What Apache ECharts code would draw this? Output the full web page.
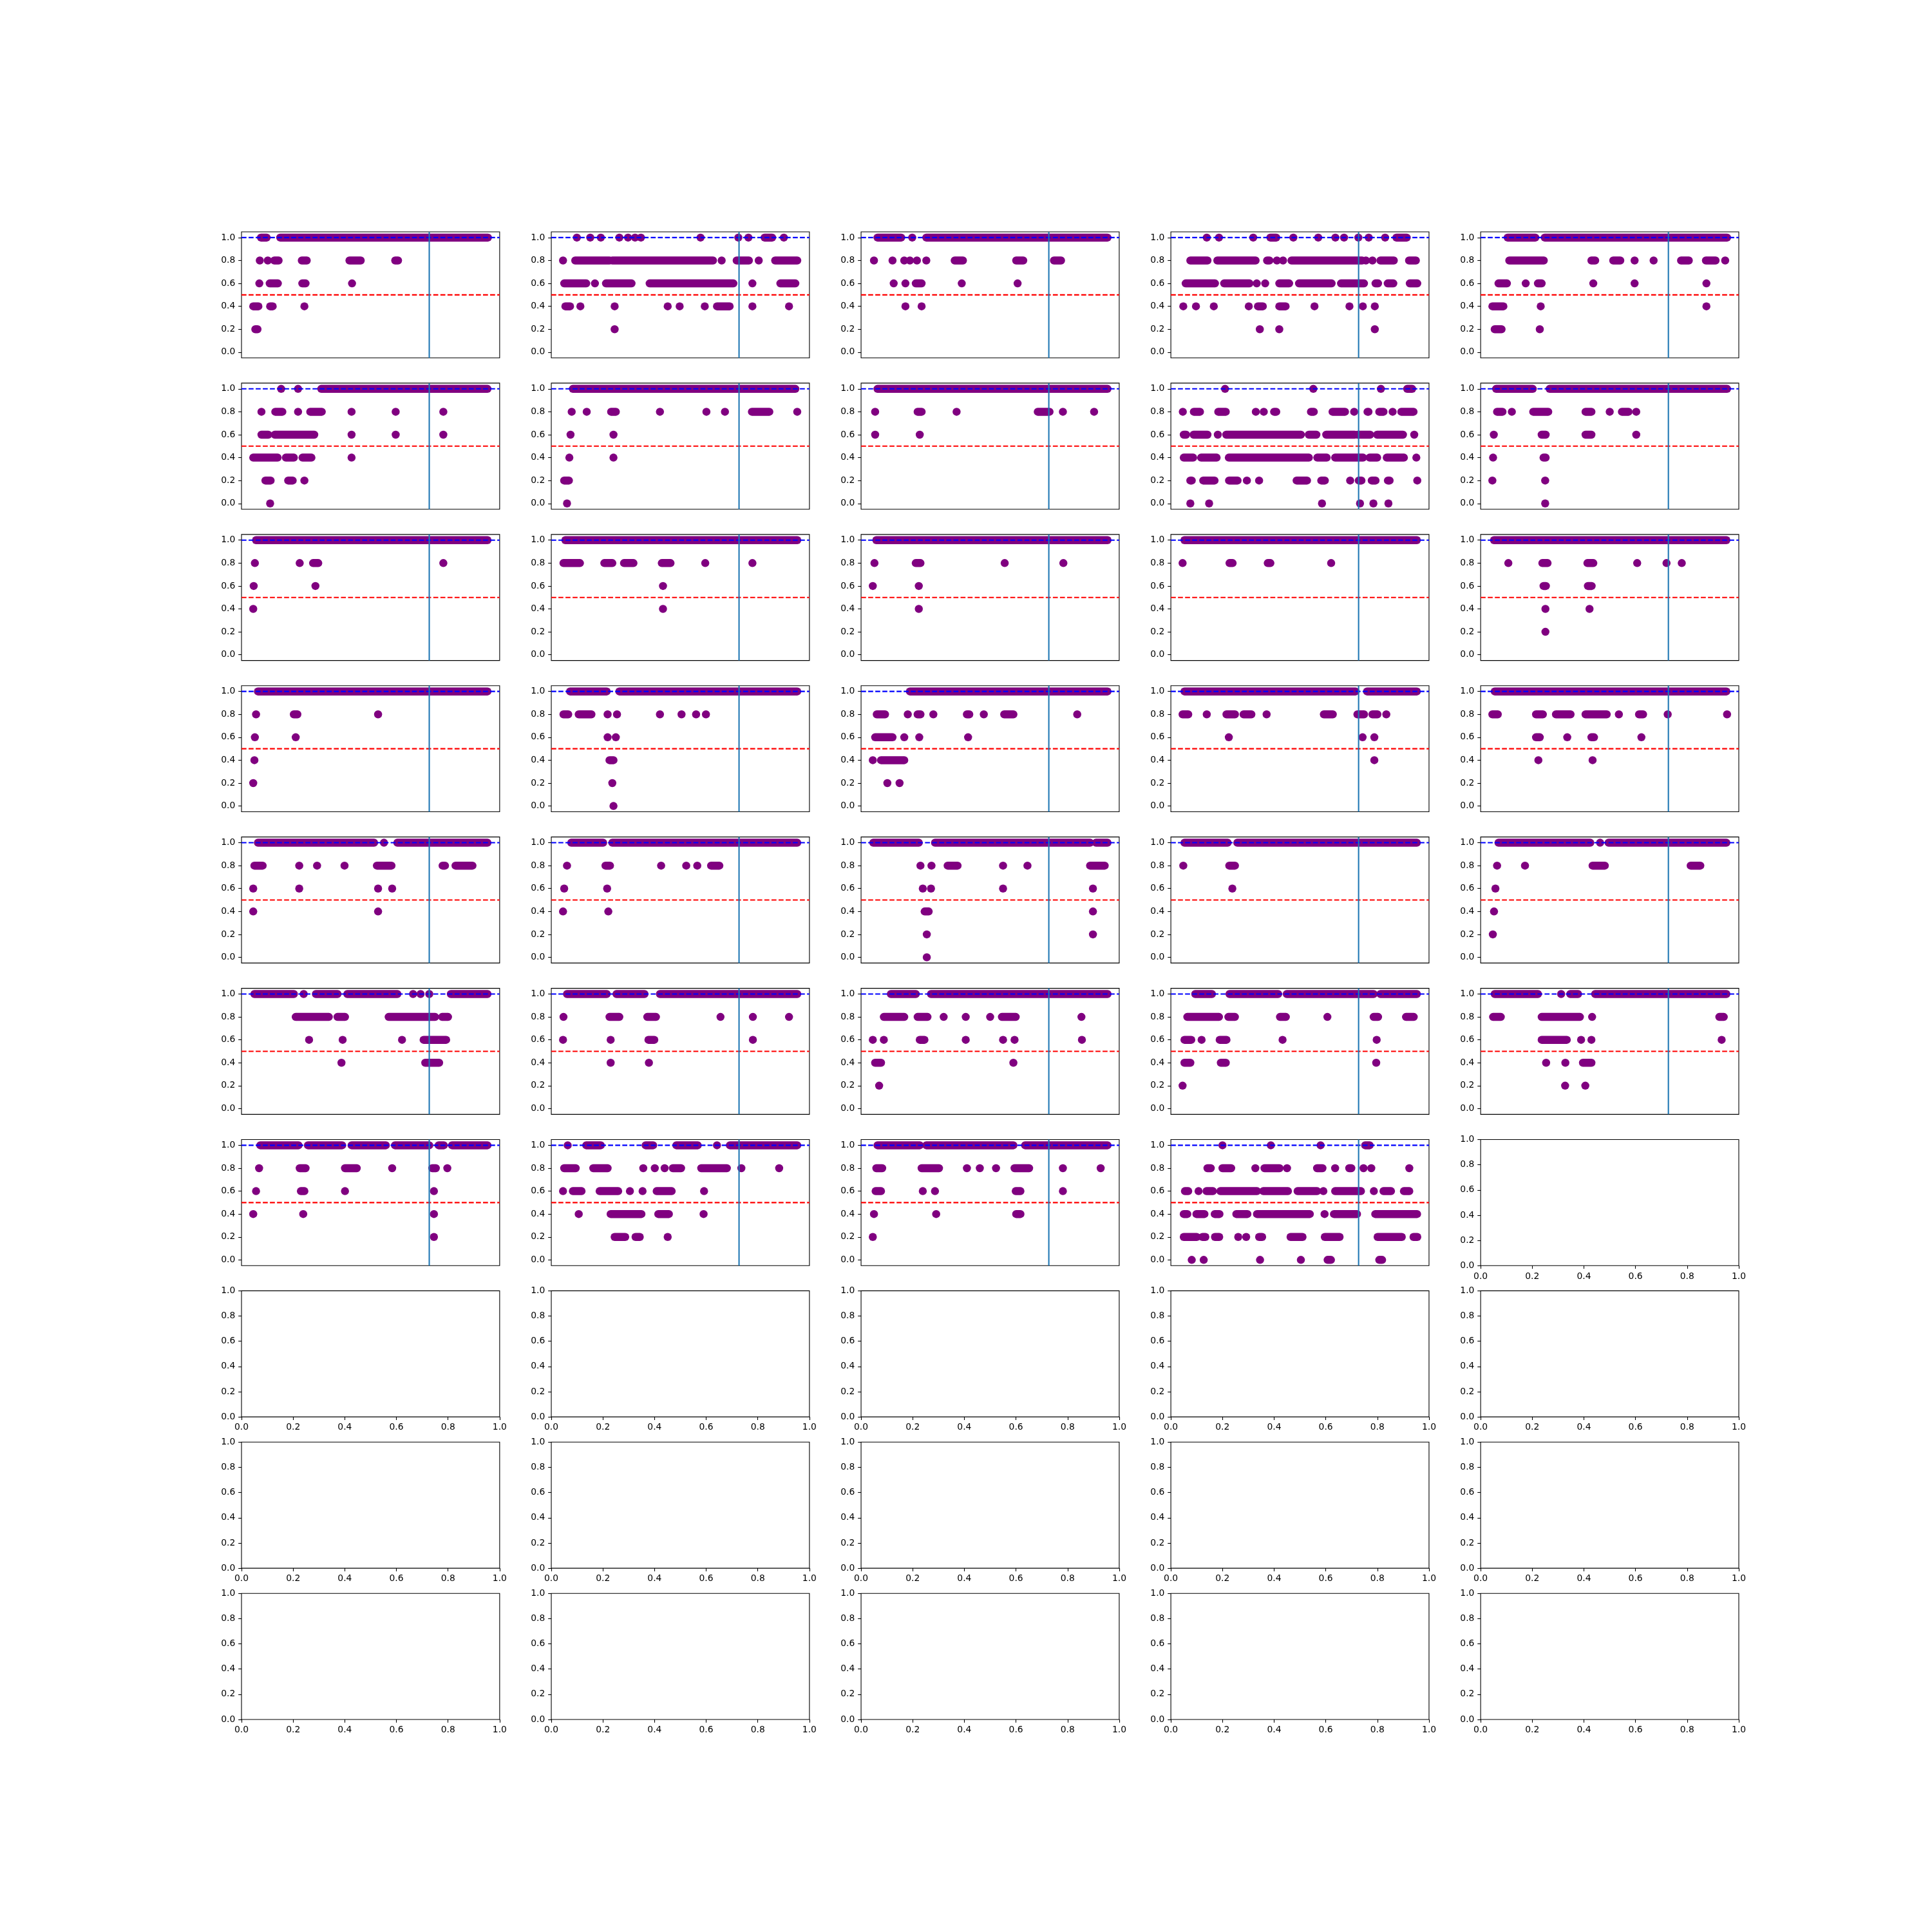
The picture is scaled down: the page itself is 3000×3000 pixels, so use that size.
<!DOCTYPE html>
<html><head><meta charset="utf-8">
<script src="https://cdn.jsdelivr.net/npm/echarts@6/dist/echarts.min.js"></script>
<style>html,body{margin:0;padding:0;background:#fff}#chart{width:3000px;height:3000px}</style>
</head><body><div id="chart"></div>
<script>
// ---- tick labels and reference values ----
const yTicks = [0, 0.2, 0.4, 0.6, 0.8, 1.0];
const xTicks = [0, 0.2, 0.4, 0.6, 0.8, 1.0];
const upperRef = 1.0, lowerRef = 0.5, splitAt = 0.75;

// ---- panel data: [y level, x start, x end] runs of touching markers (single marker when start == end) ----
const P00 = [[1,0.033,0.057],[1,0.115,1.0],[0.8,0.028,0.028],[0.8,0.062,0.062],[0.8,0.09,0.108],[0.8,0.207,0.228],[0.8,0.41,0.458],[0.8,0.605,0.617],[0.6,0.026,0.026],[0.6,0.07,0.105],[0.6,0.209,0.223],[0.6,0.421,0.421],[0.4,0.0,0.022],[0.4,0.072,0.083],[0.4,0.218,0.218],[0.2,0.009,0.018]];
const P01 = [[1,0.059,0.059],[1,0.116,0.116],[1,0.161,0.161],[1,0.24,0.24],[1,0.277,0.277],[1,0.307,0.307],[1,0.332,0.332],[1,0.586,0.586],[1,0.747,0.747],[1,0.79,0.79],[1,0.859,0.891],[1,0.941,0.941],[0.8,0.0,0.0],[0.8,0.052,0.198],[0.8,0.21,0.639],[0.8,0.676,0.676],[0.8,0.74,0.792],[0.8,0.834,0.834],[0.8,0.904,0.998],[0.6,0.005,0.099],[0.6,0.136,0.136],[0.6,0.183,0.292],[0.6,0.369,0.726],[0.6,0.807,0.807],[0.6,0.926,0.99],[0.4,0.01,0.03],[0.4,0.074,0.074],[0.4,0.22,0.22],[0.4,0.446,0.446],[0.4,0.497,0.497],[0.4,0.604,0.604],[0.4,0.656,0.71],[0.4,0.807,0.807],[0.4,0.963,0.963],[0.2,0.22,0.22]];
const P02 = [[1,0.02,0.121],[1,0.168,0.168],[1,0.228,1.0],[0.8,0.005,0.005],[0.8,0.084,0.084],[0.8,0.134,0.134],[0.8,0.158,0.158],[0.8,0.188,0.188],[0.8,0.228,0.228],[0.8,0.349,0.384],[0.8,0.611,0.641],[0.8,0.772,0.802],[0.6,0.089,0.089],[0.6,0.139,0.139],[0.6,0.183,0.208],[0.6,0.379,0.379],[0.6,0.617,0.617],[0.4,0.139,0.139],[0.4,0.208,0.208]];
const P03 = [[1,0.103,0.103],[1,0.155,0.155],[1,0.301,0.301],[1,0.374,0.399],[1,0.472,0.472],[1,0.578,0.578],[1,0.651,0.651],[1,0.688,0.688],[1,0.749,0.749],[1,0.793,0.793],[1,0.863,0.863],[1,0.911,0.955],[0.8,0.033,0.106],[0.8,0.148,0.311],[0.8,0.36,0.37],[0.8,0.402,0.402],[0.8,0.428,0.428],[0.8,0.464,0.765],[0.8,0.781,0.781],[0.8,0.809,0.809],[0.8,0.843,0.9],[0.8,0.965,0.994],[0.6,0.013,0.138],[0.6,0.177,0.285],[0.6,0.316,0.316],[0.6,0.352,0.352],[0.6,0.412,0.454],[0.6,0.496,0.635],[0.6,0.675,0.773],[0.6,0.822,0.833],[0.6,0.874,0.898],[0.6,0.968,1.0],[0.4,0.003,0.003],[0.4,0.057,0.057],[0.4,0.133,0.133],[0.4,0.282,0.282],[0.4,0.321,0.342],[0.4,0.412,0.439],[0.4,0.562,0.562],[0.4,0.711,0.711],[0.4,0.768,0.768],[0.4,0.819,0.819],[0.2,0.329,0.329],[0.2,0.412,0.412],[0.2,0.819,0.819]];
const P04 = [[1,0.065,0.183],[1,0.223,1.0],[0.8,0.072,0.219],[0.8,0.422,0.438],[0.8,0.515,0.545],[0.8,0.606,0.606],[0.8,0.687,0.687],[0.8,0.804,0.837],[0.8,0.91,0.951],[0.8,0.992,0.992],[0.6,0.026,0.062],[0.6,0.142,0.142],[0.6,0.194,0.21],[0.6,0.43,0.43],[0.6,0.606,0.606],[0.6,0.912,0.912],[0.4,0.0,0.047],[0.4,0.206,0.206],[0.4,0.912,0.912],[0.2,0.01,0.039],[0.2,0.202,0.202]];
const P10 = [[1,0.119,0.119],[1,0.191,0.191],[1,0.29,0.998],[0.8,0.035,0.035],[0.8,0.094,0.124],[0.8,0.191,0.191],[0.8,0.243,0.292],[0.8,0.419,0.419],[0.8,0.607,0.607],[0.8,0.81,0.81],[0.6,0.035,0.064],[0.6,0.092,0.26],[0.6,0.419,0.419],[0.6,0.607,0.607],[0.6,0.81,0.81],[0.4,0.0,0.104],[0.4,0.139,0.173],[0.4,0.21,0.248],[0.4,0.419,0.419],[0.2,0.052,0.074],[0.2,0.149,0.168],[0.2,0.218,0.218],[0.0,0.072,0.072]];
const P11 = [[1,0.042,0.99],[0.8,0.037,0.037],[0.8,0.101,0.101],[0.8,0.205,0.225],[0.8,0.413,0.413],[0.8,0.611,0.611],[0.8,0.69,0.69],[0.8,0.805,0.879],[0.8,0.998,0.998],[0.6,0.032,0.032],[0.6,0.215,0.215],[0.4,0.027,0.027],[0.4,0.215,0.215],[0.2,0.005,0.025],[0.0,0.017,0.017]];
const P12 = [[1,0.02,1.0],[0.8,0.01,0.01],[0.8,0.191,0.208],[0.8,0.357,0.357],[0.8,0.703,0.753],[0.8,0.81,0.81],[0.8,0.943,0.943],[0.6,0.01,0.01],[0.6,0.2,0.2]];
const P13 = [[1,0.181,0.181],[1,0.557,0.557],[1,0.845,0.845],[1,0.957,0.978],[0.8,0.001,0.001],[0.8,0.048,0.074],[0.8,0.152,0.184],[0.8,0.312,0.312],[0.8,0.346,0.346],[0.8,0.39,0.399],[0.8,0.547,0.559],[0.8,0.639,0.692],[0.8,0.731,0.731],[0.8,0.788,0.792],[0.8,0.838,0.856],[0.8,0.895,0.895],[0.8,0.932,0.984],[0.6,0.005,0.015],[0.6,0.047,0.106],[0.6,0.15,0.15],[0.6,0.186,0.504],[0.6,0.538,0.57],[0.6,0.612,0.733],[0.6,0.746,0.799],[0.6,0.829,0.939],[0.6,0.987,0.987],[0.4,0.005,0.045],[0.4,0.079,0.145],[0.4,0.197,0.538],[0.4,0.574,0.614],[0.4,0.65,0.769],[0.4,0.797,0.829],[0.4,0.87,0.943],[0.4,0.996,0.996],[0.2,0.033,0.039],[0.2,0.088,0.136],[0.2,0.198,0.234],[0.2,0.274,0.274],[0.2,0.326,0.326],[0.2,0.486,0.53],[0.2,0.591,0.606],[0.2,0.714,0.714],[0.2,0.751,0.762],[0.2,0.806,0.822],[0.2,0.875,0.882],[0.2,1.0,1.0],[0.0,0.033,0.033],[0.0,0.113,0.113],[0.0,0.594,0.594],[0.0,0.756,0.756],[0.0,0.813,0.813],[0.0,0.877,0.877]];
const P14 = [[1,0.016,0.172],[1,0.244,1.0],[0.8,0.02,0.043],[0.8,0.083,0.083],[0.8,0.174,0.238],[0.8,0.397,0.422],[0.8,0.5,0.5],[0.8,0.552,0.58],[0.8,0.613,0.613],[0.6,0.006,0.006],[0.6,0.21,0.227],[0.6,0.397,0.422],[0.6,0.613,0.613],[0.4,0.003,0.003],[0.4,0.218,0.227],[0.2,0.0,0.0],[0.2,0.225,0.225],[0.0,0.225,0.225]];
const P20 = [[1,0.012,0.998],[0.8,0.007,0.007],[0.8,0.198,0.198],[0.8,0.255,0.277],[0.8,0.81,0.81],[0.6,0.002,0.002],[0.6,0.265,0.265],[0.4,0.0,0.0]];
const P21 = [[1,0.01,0.998],[0.8,0.002,0.072],[0.8,0.176,0.21],[0.8,0.26,0.3],[0.8,0.421,0.458],[0.8,0.606,0.606],[0.8,0.807,0.807],[0.6,0.426,0.426],[0.4,0.426,0.426]];
const P22 = [[1,0.015,1.0],[0.8,0.007,0.007],[0.8,0.183,0.203],[0.8,0.562,0.562],[0.8,0.812,0.812],[0.6,0.0,0.0],[0.6,0.196,0.196],[0.4,0.196,0.196]];
const P23 = [[1,0.008,0.998],[0.8,0.0,0.0],[0.8,0.2,0.213],[0.8,0.363,0.374],[0.8,0.633,0.633]];
const P24 = [[1,0.007,0.997],[0.8,0.068,0.068],[0.8,0.213,0.235],[0.8,0.405,0.43],[0.8,0.617,0.617],[0.8,0.742,0.742],[0.8,0.807,0.807],[0.6,0.218,0.228],[0.6,0.407,0.423],[0.4,0.226,0.226],[0.4,0.414,0.414],[0.2,0.226,0.226]];
const P30 = [[1,0.02,0.998],[0.8,0.012,0.012],[0.8,0.173,0.188],[0.8,0.532,0.532],[0.6,0.007,0.007],[0.6,0.181,0.181],[0.4,0.005,0.005],[0.2,0.0,0.0]];
const P31 = [[1,0.03,0.186],[1,0.24,0.998],[0.8,0.002,0.022],[0.8,0.067,0.121],[0.8,0.19,0.19],[0.8,0.23,0.23],[0.8,0.413,0.413],[0.8,0.505,0.505],[0.8,0.567,0.567],[0.8,0.609,0.609],[0.6,0.19,0.19],[0.6,0.225,0.225],[0.4,0.198,0.215],[0.2,0.21,0.21],[0.0,0.215,0.215]];
const P32 = [[1,0.158,1.0],[0.8,0.017,0.052],[0.8,0.149,0.149],[0.8,0.191,0.203],[0.8,0.258,0.258],[0.8,0.401,0.411],[0.8,0.473,0.473],[0.8,0.56,0.599],[0.8,0.871,0.871],[0.6,0.01,0.084],[0.6,0.134,0.134],[0.6,0.198,0.198],[0.6,0.406,0.406],[0.4,0.0,0.0],[0.4,0.035,0.134],[0.2,0.062,0.062],[0.2,0.114,0.114]];
const P33 = [[1,0.008,0.737],[1,0.786,0.998],[0.8,0.0,0.024],[0.8,0.103,0.103],[0.8,0.187,0.223],[0.8,0.26,0.293],[0.8,0.358,0.358],[0.8,0.602,0.64],[0.8,0.745,0.773],[0.8,0.809,0.83],[0.8,0.868,0.868],[0.6,0.197,0.197],[0.6,0.767,0.767],[0.6,0.817,0.817],[0.4,0.817,0.817]];
const P34 = [[1,0.01,0.997],[0.8,0.0,0.023],[0.8,0.186,0.215],[0.8,0.271,0.333],[0.8,0.397,0.487],[0.8,0.539,0.539],[0.8,0.625,0.642],[0.8,0.747,0.747],[0.8,1.0,1.0],[0.6,0.186,0.202],[0.6,0.319,0.319],[0.6,0.422,0.433],[0.6,0.635,0.635],[0.4,0.196,0.196],[0.4,0.427,0.427]];
const P40 = [[1,0.02,0.515],[1,0.557,0.557],[1,0.614,0.998],[0.8,0.005,0.04],[0.8,0.196,0.196],[0.8,0.272,0.272],[0.8,0.389,0.389],[0.8,0.527,0.589],[0.8,0.807,0.817],[0.8,0.862,0.934],[0.6,0.0,0.0],[0.6,0.196,0.196],[0.6,0.532,0.532],[0.6,0.592,0.592],[0.4,0.0,0.0],[0.4,0.532,0.532]];
const P41 = [[1,0.035,0.171],[1,0.21,0.998],[0.8,0.017,0.017],[0.8,0.181,0.2],[0.8,0.418,0.418],[0.8,0.525,0.525],[0.8,0.572,0.572],[0.8,0.631,0.666],[0.6,0.005,0.005],[0.6,0.188,0.188],[0.4,0.0,0.0],[0.4,0.193,0.193]];
const P42 = [[1,0.002,0.196],[1,0.265,0.926],[1,0.951,1.0],[0.8,0.203,0.203],[0.8,0.25,0.25],[0.8,0.319,0.361],[0.8,0.555,0.555],[0.8,0.659,0.659],[0.8,0.926,0.988],[0.6,0.213,0.213],[0.6,0.248,0.248],[0.6,0.555,0.555],[0.6,0.938,0.938],[0.4,0.221,0.238],[0.4,0.938,0.938],[0.2,0.23,0.23],[0.2,0.938,0.938],[0.0,0.23,0.23]];
const P43 = [[1,0.008,0.192],[1,0.233,0.998],[0.8,0.003,0.003],[0.8,0.199,0.223],[0.6,0.212,0.212]];
const P44 = [[1,0.026,0.417],[1,0.459,0.459],[1,0.495,0.997],[0.8,0.02,0.02],[0.8,0.139,0.139],[0.8,0.427,0.479],[0.8,0.845,0.886],[0.6,0.013,0.013],[0.4,0.007,0.007],[0.2,0.002,0.002]];
const P50 = [[1,0.005,0.173],[1,0.215,0.215],[1,0.267,0.359],[1,0.401,0.614],[1,0.681,0.681],[1,0.713,0.713],[1,0.75,0.75],[1,0.842,0.998],[0.8,0.181,0.322],[0.8,0.359,0.391],[0.8,0.577,0.775],[0.8,0.805,0.83],[0.6,0.238,0.238],[0.6,0.381,0.381],[0.6,0.634,0.634],[0.6,0.726,0.822],[0.4,0.376,0.376],[0.4,0.733,0.792]];
const P51 = [[1,0.017,0.186],[1,0.228,0.347],[1,0.413,0.998],[0.8,0.002,0.002],[0.8,0.198,0.24],[0.8,0.359,0.396],[0.8,0.671,0.671],[0.8,0.809,0.809],[0.8,0.963,0.963],[0.6,0.0,0.0],[0.6,0.203,0.203],[0.6,0.364,0.389],[0.6,0.809,0.809],[0.4,0.203,0.203],[0.4,0.366,0.366]];
const P52 = [[1,0.077,0.183],[1,0.248,1.0],[0.8,0.047,0.134],[0.8,0.191,0.233],[0.8,0.302,0.302],[0.8,0.396,0.396],[0.8,0.5,0.5],[0.8,0.55,0.609],[0.8,0.889,0.889],[0.6,0.0,0.0],[0.6,0.047,0.047],[0.6,0.2,0.22],[0.6,0.396,0.396],[0.6,0.555,0.555],[0.6,0.604,0.604],[0.6,0.891,0.891],[0.4,0.01,0.035],[0.4,0.599,0.599],[0.2,0.027,0.027]];
const P53 = [[1,0.054,0.125],[1,0.2,0.407],[1,0.444,0.814],[1,0.843,0.998],[0.8,0.02,0.155],[0.8,0.195,0.223],[0.8,0.415,0.44],[0.8,0.617,0.617],[0.8,0.814,0.833],[0.8,0.952,0.985],[0.6,0.008,0.037],[0.6,0.081,0.081],[0.6,0.158,0.187],[0.6,0.426,0.426],[0.6,0.827,0.827],[0.4,0.008,0.033],[0.4,0.163,0.184],[0.4,0.825,0.825],[0.2,0.0,0.0]];
const P54 = [[1,0.01,0.194],[1,0.293,0.293],[1,0.332,0.365],[1,0.438,0.997],[0.8,0.003,0.036],[0.8,0.21,0.373],[0.8,0.425,0.425],[0.8,0.967,0.986],[0.6,0.21,0.317],[0.6,0.378,0.378],[0.6,0.422,0.422],[0.6,0.977,0.977],[0.4,0.229,0.229],[0.4,0.311,0.311],[0.4,0.386,0.422],[0.2,0.31,0.31],[0.2,0.396,0.396]];
const P60 = [[1,0.03,0.193],[1,0.233,0.379],[1,0.419,0.565],[1,0.604,0.75],[1,0.79,0.812],[1,0.847,0.998],[0.8,0.025,0.025],[0.8,0.198,0.223],[0.8,0.391,0.441],[0.8,0.592,0.592],[0.8,0.763,0.778],[0.8,0.827,0.827],[0.6,0.012,0.012],[0.6,0.203,0.218],[0.6,0.391,0.391],[0.6,0.77,0.77],[0.4,0.0,0.0],[0.4,0.213,0.213],[0.4,0.77,0.77],[0.2,0.77,0.77]];
const P61 = [[1,0.02,0.02],[1,0.099,0.161],[1,0.352,0.384],[1,0.483,0.574],[1,0.656,0.656],[1,0.711,0.998],[0.8,0.005,0.054],[0.8,0.129,0.19],[0.8,0.342,0.342],[0.8,0.391,0.391],[0.8,0.433,0.433],[0.8,0.468,0.503],[0.8,0.589,0.698],[0.8,0.76,0.76],[0.8,0.921,0.921],[0.6,0.0,0.0],[0.6,0.042,0.079],[0.6,0.156,0.235],[0.6,0.285,0.285],[0.6,0.339,0.339],[0.6,0.399,0.463],[0.6,0.601,0.601],[0.4,0.067,0.067],[0.4,0.203,0.334],[0.4,0.406,0.451],[0.4,0.599,0.599],[0.2,0.22,0.265],[0.2,0.309,0.327],[0.2,0.446,0.446]];
const P62 = [[1,0.02,0.2],[1,0.228,0.599],[1,0.649,1.0],[0.8,0.015,0.04],[0.8,0.208,0.282],[0.8,0.401,0.401],[0.8,0.456,0.456],[0.8,0.525,0.525],[0.8,0.604,0.666],[0.8,0.81,0.81],[0.8,0.971,0.971],[0.6,0.012,0.035],[0.6,0.213,0.213],[0.6,0.265,0.265],[0.6,0.609,0.629],[0.6,0.81,0.81],[0.4,0.005,0.005],[0.4,0.27,0.27],[0.4,0.611,0.629],[0.2,0.0,0.0]];
const P63 = [[1,0.17,0.17],[1,0.376,0.376],[1,0.588,0.588],[1,0.778,0.797],[0.8,0.106,0.12],[0.8,0.17,0.207],[0.8,0.31,0.31],[0.8,0.349,0.413],[0.8,0.445,0.445],[0.8,0.573,0.596],[0.8,0.65,0.65],[0.8,0.71,0.719],[0.8,0.771,0.771],[0.8,0.804,0.804],[0.8,0.966,0.966],[0.6,0.01,0.024],[0.6,0.068,0.068],[0.6,0.102,0.129],[0.6,0.161,0.317],[0.6,0.344,0.449],[0.6,0.49,0.573],[0.6,0.6,0.6],[0.6,0.65,0.76],[0.6,0.815,0.815],[0.6,0.856,0.888],[0.6,0.943,0.966],[0.4,0.005,0.02],[0.4,0.059,0.093],[0.4,0.137,0.157],[0.4,0.229,0.276],[0.4,0.317,0.542],[0.4,0.605,0.605],[0.4,0.645,0.743],[0.4,0.821,0.999],[0.2,0.005,0.06],[0.2,0.085,0.097],[0.2,0.138,0.156],[0.2,0.237,0.237],[0.2,0.271,0.271],[0.2,0.326,0.339],[0.2,0.46,0.511],[0.2,0.606,0.669],[0.2,0.831,0.934],[0.2,0.984,1.0],[0.0,0.039,0.039],[0.0,0.09,0.09],[0.0,0.33,0.33],[0.0,0.504,0.504],[0.0,0.618,0.632],[0.0,0.838,0.85]];

const panels = [P00,P01,P02,P03,P04,P10,P11,P12,P13,P14,P20,P21,P22,P23,P24,P30,P31,P32,P33,P34,P40,P41,P42,P43,P44,P50,P51,P52,P53,P54,P60,P61,P62,P63];

// ---- layout (matplotlib subplot grid 10 x 5) ----
const nRows = 10, nCols = 5, FIG = 3000;
const LEFT = 0.125 * FIG, RIGHT = 0.9 * FIG, TOP = 0.12 * FIG, BOTTOM = 0.89 * FIG;
const CW = (RIGHT - LEFT) / (nCols + (nCols - 1) * 0.2);
const CH = (BOTTOM - TOP) / (nRows + (nRows - 1) * 0.2);
const DOT_R = 6.25;
const FONT = {color: '#000', fontFamily: 'DejaVu Sans', fontSize: 13.9};
const TICK = {length: 4.86, inside: false, lineStyle: {color: '#000', width: 1.1}};
const fmt = v => Number(v).toFixed(1);

function renderRuns(params, api) {
  const y = api.value(0), a = api.value(1), b = api.value(2);
  const p0 = api.coord([a, y]), p1 = api.coord([b, y]);
  return {
    type: 'rect',
    shape: {x: p0[0] - DOT_R, y: p0[1] - DOT_R, width: (p1[0] - p0[0]) + 2 * DOT_R, height: 2 * DOT_R, r: DOT_R},
    style: {fill: '#800080'}
  };
}

const grid = [], xAxis = [], yAxis = [], series = [];
for (let k = 0; k < nRows * nCols; k++) {
  const r = Math.floor(k / nCols), c = k % nCols;
  grid.push({
    left: LEFT + c * CW * 1.2, top: TOP + r * CH * 1.2, width: CW, height: CH,
    show: true, borderColor: '#000', borderWidth: 1.1, backgroundColor: 'transparent',
    containLabel: false, outerBoundsMode: 'none'
  });
  const hasData = k < panels.length;
  const lo = hasData ? -0.05 : 0, hi = hasData ? 1.05 : 1;
  xAxis.push({
    gridIndex: k, type: 'value', min: lo, max: hi, position: 'bottom',
    axisLine: {show: false, onZero: false}, splitLine: {show: false},
    axisTick: Object.assign({show: !hasData, customValues: xTicks}, TICK),
    axisLabel: Object.assign({show: !hasData, customValues: xTicks, formatter: fmt, margin: 9.7, showMinLabel: true, showMaxLabel: true, hideOverlap: false}, FONT)
  });
  yAxis.push({
    gridIndex: k, type: 'value', min: lo, max: hi, position: 'left',
    axisLine: {show: false, onZero: false}, splitLine: {show: false},
    axisTick: Object.assign({show: true, customValues: yTicks}, TICK),
    axisLabel: Object.assign({show: true, customValues: yTicks, formatter: fmt, margin: 9.7, showMinLabel: true, showMaxLabel: true, hideOverlap: false}, FONT)
  });
  if (hasData) {
    series.push({
      type: 'custom', xAxisIndex: k, yAxisIndex: k, data: panels[k],
      encode: {x: [1, 2], y: 0}, renderItem: renderRuns, z: 2, silent: true, clip: false
    });
    series.push({
      type: 'line', xAxisIndex: k, yAxisIndex: k, data: [[lo, upperRef], [hi, upperRef]],
      symbol: 'none', silent: true, z: 3,
      lineStyle: {color: '#0000ff', width: 2.08, type: [7.7, 3.33]}
    });
    series.push({
      type: 'line', xAxisIndex: k, yAxisIndex: k, data: [[lo, lowerRef], [hi, lowerRef]],
      symbol: 'none', silent: true, z: 3,
      lineStyle: {color: '#ff0000', width: 2.08, type: [7.7, 3.33]}
    });
    series.push({
      type: 'line', xAxisIndex: k, yAxisIndex: k, data: [[splitAt, lo], [splitAt, hi]],
      symbol: 'none', silent: true, z: 4,
      lineStyle: {color: '#1f77b4', width: 2.08, type: 'solid'}
    });
  }
}

const chart = echarts.init(document.getElementById('chart'), null, {renderer: 'canvas', width: 3000, height: 3000});
chart.setOption({
  backgroundColor: '#ffffff',
  animation: false,
  grid, xAxis, yAxis, series
});
</script>
</body></html>
